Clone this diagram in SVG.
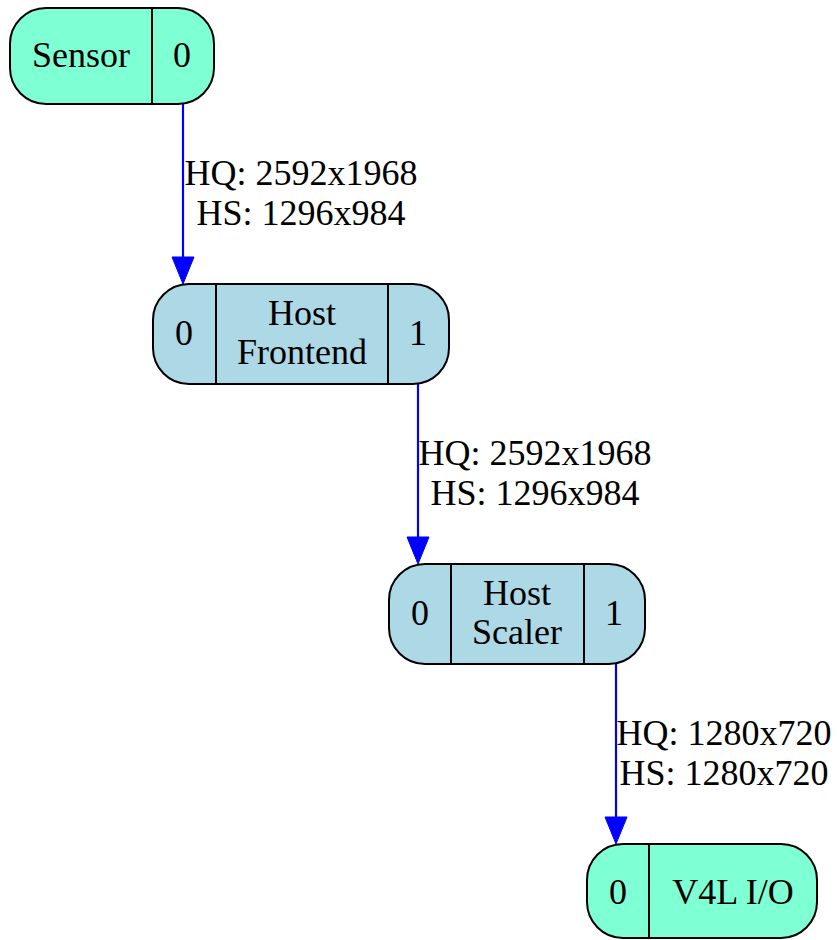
<svg xmlns="http://www.w3.org/2000/svg" width="837" height="940" viewBox="0 0 837 940">
<style>
.n{stroke:#000;stroke-width:2}
.a{fill:#7fffd4}
.b{fill:#add8e6}
.d{stroke:#000;stroke-width:2}
text{font-family:"Liberation Serif","Times New Roman",serif;font-size:36px;fill:#000;text-anchor:middle}
.e{stroke:#0000ff;stroke-width:2.2;fill:none}
.h{fill:#0000ff;stroke:#0000ff;stroke-width:1}
</style>
<rect width="837" height="940" fill="#fff"/>
<g id="edges">
<line class="e" x1="183" y1="104" x2="183" y2="258"/>
<polygon class="h" points="172,257 194,257 183,284"/>
<text x="301" y="185">HQ: 2592x1968</text>
<text x="301" y="225">HS: 1296x984</text>
<line class="e" x1="418" y1="384" x2="418" y2="538"/>
<polygon class="h" points="407,537 429,537 418,564"/>
<text x="535" y="465">HQ: 2592x1968</text>
<text x="535" y="505">HS: 1296x984</text>
<line class="e" x1="616" y1="664" x2="616" y2="818"/>
<polygon class="h" points="605,817 627,817 616,844"/>
<text x="724" y="745">HQ: 1280x720</text>
<text x="724" y="785">HS: 1280x720</text>
</g>
<g id="sensor">
<rect class="n a" x="10" y="8" width="204" height="96" rx="36"/>
<line class="d" x1="152" y1="8" x2="152" y2="104"/>
<text x="81" y="67">Sensor</text>
<text x="182" y="67">0</text>
</g>
<g id="host-frontend">
<rect class="n b" x="153" y="284" width="296" height="100" rx="36"/>
<line class="d" x1="216" y1="284" x2="216" y2="384"/>
<line class="d" x1="388" y1="284" x2="388" y2="384"/>
<text x="184" y="345">0</text>
<text x="302" y="325">Host</text>
<text x="302" y="364">Frontend</text>
<text x="418" y="345">1</text>
</g>
<g id="host-scaler">
<rect class="n b" x="389" y="564" width="256" height="100" rx="36"/>
<line class="d" x1="451" y1="564" x2="451" y2="664"/>
<line class="d" x1="584" y1="564" x2="584" y2="664"/>
<text x="420" y="625">0</text>
<text x="517" y="605">Host</text>
<text x="517" y="644">Scaler</text>
<text x="614" y="625">1</text>
</g>
<g id="v4l-io">
<rect class="n a" x="587" y="844" width="230" height="94" rx="36"/>
<line class="d" x1="649" y1="844" x2="649" y2="938"/>
<text x="618" y="904">0</text>
<text x="733" y="904">V4L I/O</text>
</g>
</svg>
